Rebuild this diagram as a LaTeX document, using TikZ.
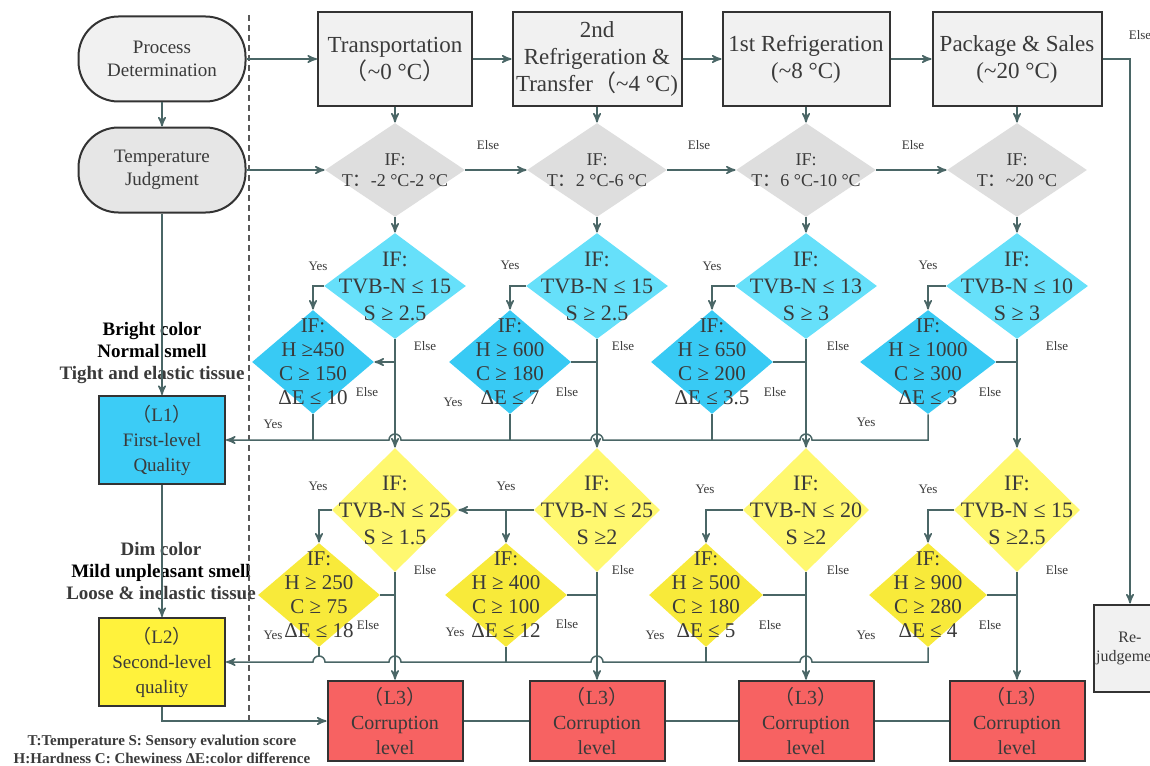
\documentclass[tikz,border=0pt]{standalone}
\usepackage{fontspec}
\setmainfont{Liberation Serif}
\newfontfamily\cjk{Noto Sans CJK SC}
\usetikzlibrary{arrows,shapes.geometric}

\definecolor{linec}{HTML}{4A6666}
\definecolor{bordc}{HTML}{333333}
\definecolor{txtc}{HTML}{3A3A3A}
\definecolor{boxg}{HTML}{F1F1F1}
\definecolor{ovalg}{HTML}{E6E6E6}
\definecolor{diag}{HTML}{DEDEDE}
\definecolor{lblue}{HTML}{66E0FA}
\definecolor{dblue}{HTML}{38CAF4}
\definecolor{lone}{HTML}{3CCCF6}
\definecolor{lyel}{HTML}{FFF870}
\definecolor{dyel}{HTML}{F8EA3A}
\definecolor{ltwo}{HTML}{FFF23C}
\definecolor{cred}{HTML}{F76262}

\newcommand{\flp}{{\cjk （}}
\newcommand{\frp}{{\cjk ）}}
\newcommand{\fcol}{{\cjk ：}}
\newcommand{\appr}{\textasciitilde}

\begin{document}
\begin{tikzpicture}[x=0.5pt,y=-0.5pt,>=stealth',
  arr/.style={->,draw=linec,line width=0.75pt},
  ln/.style={-,draw=linec,line width=0.75pt},
  stage/.style={rectangle,draw=bordc,line width=1pt,fill=boxg,text=txtc,align=center,
    font=\rmfamily\fontsize{11.5}{13.5}\selectfont,minimum height=47pt,inner sep=1pt},
  oval/.style={rectangle,rounded corners=20pt,draw=bordc,line width=1pt,text=txtc,align=center,
    font=\rmfamily\fontsize{9.5}{11.5}\selectfont,minimum width=83.5pt,minimum height=42.5pt},
  level/.style={rectangle,draw=bordc,line width=1pt,text=txtc,align=center,
    font=\rmfamily\fontsize{9.5}{12.5}\selectfont,minimum width=63pt,minimum height=44pt},
  corr/.style={rectangle,draw=bordc,line width=1pt,fill=cred,text=txtc,align=center,
    font=\rmfamily\fontsize{10}{12.5}\selectfont,minimum width=67.5pt,minimum height=38.5pt},
  tcheck/.style={diamond,fill=diag,minimum width=70pt,minimum height=47pt,inner sep=0pt},
  fcheck/.style={diamond,fill=lblue,minimum width=71pt,minimum height=53pt,inner sep=0pt},
  fsub/.style={diamond,fill=dblue,minimum width=61pt,minimum height=52pt,inner sep=0pt},
  scheck/.style={diamond,fill=lyel,minimum width=63pt,minimum height=62pt,inner sep=0pt},
  ssub/.style={diamond,fill=dyel,minimum width=61pt,minimum height=52pt,inner sep=0pt},
  ttxt/.style={align=center,text=txtc,font=\rmfamily\fontsize{9}{10.5}\selectfont},
  btxt/.style={align=center,text=txtc,font=\rmfamily\fontsize{11}{13.5}\selectfont},
  stxt/.style={align=center,text=txtc,font=\rmfamily\fontsize{10.5}{12}\selectfont},
  desc/.style={align=center,text=txtc,font=\rmfamily\bfseries\fontsize{9.5}{11}\selectfont},
  note/.style={align=center,text=txtc,font=\rmfamily\bfseries\fontsize{7.5}{9}\selectfont},
  lab/.style={text=txtc,inner sep=0pt,font=\rmfamily\fontsize{6.5}{7}\selectfont}]

  \useasboundingbox (0,0) rectangle (1150,765);
  \fill[white] (0,0) rectangle (1150,765);

  % left column
  \node[oval,fill=boxg] (pd) at (162,59) {Process\\Determination};
  \node[oval,fill=ovalg] (tj) at (162,170) {Temperature\\Judgment};
  \node[level,fill=lone] (l1) at (162,440) {\flp L1\frp\\First-level\\Quality};
  \node[level,fill=ltwo] (l2) at (162,662) {\flp L2\frp\\Second-level\\quality};
  \node[desc] (good) at (152,353) {{\color{black}Bright color}\\{\color{black}Normal smell}\\Tight and elastic tissue};
  \node[desc] (fair) at (161,571) {Dim color\\{\color{black}Mild unpleasant smell}\\Loose \& inelastic tissue};
  \node[note] (key) at (162,749) {T:Temperature S: Sensory evalution score\\H:Hardness C: Chewiness ΔE:color difference};

  \draw[dashed,dash pattern=on 3pt off 2pt,draw=black!65,line width=0.6pt] (249,15) -- (249,722);

  % process stages
  \node[stage,minimum width=77pt] (st1) at (395,59) {Transportation\\\flp\appr0 °C\frp};
  \node[stage,minimum width=84.5pt] (st2) at (597,59) {2nd\\Refrigeration \&\\Transfer\flp\appr4 °C)};
  \node[stage,minimum width=83.5pt] (st3) at (806,59) {1st Refrigeration\\(\appr8 °C)};
  \node[stage,minimum width=84.5pt] (st4) at (1017,59) {Package \& Sales\\(\appr20 °C)};
  \node[stage,minimum width=35pt,minimum height=43.5pt,font=\rmfamily\fontsize{8}{9.5}\selectfont] (rj) at (1130,648) {Re-\\judgement};

  % temperature checks
  \node[tcheck,label={[ttxt]center:{IF:\\T\fcol-2 °C-2 °C}}] (tc1) at (395,170) {};
  \node[tcheck,label={[ttxt]center:{IF:\\T\fcol 2 °C-6 °C}}] (tc2) at (597,170) {};
  \node[tcheck,label={[ttxt]center:{IF:\\T\fcol 6 °C-10 °C}}] (tc3) at (806,170) {};
  \node[tcheck,label={[ttxt]center:{IF:\\T\fcol\appr20 °C}}] (tc4) at (1017,170) {};

  % first-level checks
  \node[fcheck,label={[btxt]center:{IF:\\TVB-N ≤ 15\\S ≥ 2.5}}] (fa1) at (395,286) {};
  \node[fcheck,label={[btxt]center:{IF:\\TVB-N ≤ 15\\S ≥ 2.5}}] (fa2) at (597,286) {};
  \node[fcheck,label={[btxt]center:{IF:\\TVB-N ≤ 13\\S ≥ 3}}] (fa3) at (806,286) {};
  \node[fcheck,label={[btxt]center:{IF:\\TVB-N ≤ 10\\S ≥ 3}}] (fa4) at (1017,286) {};
  \node[fsub,label={[stxt]center:{IF:\\H ≥450\\C ≥ 150\\ΔE ≤ 10}}] (fb1) at (313,362) {};
  \node[fsub,label={[stxt]center:{IF:\\H ≥ 600\\C ≥ 180\\ΔE ≤ 7}}] (fb2) at (510,362) {};
  \node[fsub,label={[stxt]center:{IF:\\H ≥ 650\\C ≥ 200\\ΔE ≤ 3.5}}] (fb3) at (712,362) {};
  \node[fsub,minimum width=68pt,label={[stxt]center:{IF:\\H ≥ 1000\\C ≥ 300\\ΔE ≤ 3}}] (fb4) at (928,362) {};

  % second-level checks
  \node[scheck,label={[btxt]center:{IF:\\TVB-N ≤ 25\\S ≥ 1.5}}] (sa1) at (395,510) {};
  \node[scheck,label={[btxt]center:{IF:\\TVB-N ≤ 25\\S ≥2}}] (sa2) at (597,510) {};
  \node[scheck,label={[btxt]center:{IF:\\TVB-N ≤ 20\\S ≥2}}] (sa3) at (806,510) {};
  \node[scheck,label={[btxt]center:{IF:\\TVB-N ≤ 15\\S ≥2.5}}] (sa4) at (1017,510) {};
  \node[ssub,label={[stxt]center:{IF:\\H ≥ 250\\C ≥ 75\\ΔE ≤ 18}}] (sb1) at (319,595) {};
  \node[ssub,label={[stxt]center:{IF:\\H ≥ 400\\C ≥ 100\\ΔE ≤ 12}}] (sb2) at (506,595) {};
  \node[ssub,minimum width=57pt,label={[stxt]center:{IF:\\H ≥ 500\\C ≥ 180\\ΔE ≤ 5}}] (sb3) at (706,595) {};
  \node[ssub,minimum width=59pt,label={[stxt]center:{IF:\\H ≥ 900\\C ≥ 280\\ΔE ≤ 4}}] (sb4) at (928,595) {};

  % corruption level
  \node[corr] (cor1) at (395,721) {\flp L3\frp\\Corruption\\level};
  \node[corr] (cor2) at (597,721) {\flp L3\frp\\Corruption\\level};
  \node[corr] (cor3) at (806,721) {\flp L3\frp\\Corruption\\level};
  \node[corr] (cor4) at (1017,721) {\flp L3\frp\\Corruption\\level};

  \foreach \n/\x/\y in {1/318/266,2/510/265,3/712/266,4/928/265,5/273/424,6/453/402,7/866/422,
      8/318/486,9/506/486,10/705/489,11/928/489,12/273/635,13/455/632,14/655/635,15/866/635}
    \node[lab] (yes\n) at (\x,\y) {Yes};
  \foreach \n/\x/\y in {1/488/145,2/699/145,3/913/145,4/1140/35,5/425/346,6/623/346,7/838/346,
      8/1057/346,9/367/392,10/567/392,11/775/392,12/990/392,13/425/570,14/623/570,15/838/570,
      16/1057/570,17/368/625,18/567/624,19/770/625,20/990/625}
    \node[lab] (else\n) at (\x,\y) {Else};

  % main flow
  \draw[arr] (pd) -- (st1);
  \draw[arr] (st1) -- (st2);
  \draw[arr] (st2) -- (st3);
  \draw[arr] (st3) -- (st4);
  \draw[arr] (st4.east) -| (rj.north); % else
  \draw[arr] (pd) -- (tj);
  \draw[arr] (tj) -- (tc1);
  \draw[arr] (tj) -- (l1);
  \draw[arr] (l1) -- (l2);
  \draw[arr] (l2.south) |- (cor1.west);
  \draw[arr] (tc1) -- (tc2);
  \draw[arr] (tc2) -- (tc3);
  \draw[arr] (tc3) -- (tc4);

  \foreach \i in {1,...,4} {
    \draw[arr] (st\i) -- (tc\i);
    \draw[arr] (tc\i) -- (fa\i);
    \draw[arr] (fa\i.west) -| (fb\i.north); % yes
    \draw[arr] (fa\i) -- (sa\i); % else
    \draw[arr] (sa\i.west) -| (sb\i.north); % yes
    \draw[arr] (sa\i) -- (cor\i); % else
    \draw[ln] (sb\i.east) -- (sb\i.east -| sa\i.south);
  }
  \draw[arr] (fa1.south |- fb1.east) -- (fb1.east);
  \foreach \i in {2,3,4}
    \draw[ln] (fb\i.east) -- (fb\i.east -| fa\i.south);
  \draw[arr] (sa2.west) -- (sa1.east);

  % yes to first level
  \foreach \i in {1,2,3}
    \draw[ln] (fb\i.south) -- (fb\i.south |- l1.east);
  \draw[arr] (fb4.south) -- (fb4.south |- l1.east)
    -- ([xshift=3pt]fa3.south |- l1.east) arc[start angle=0,end angle=180,radius=3pt]
    -- ([xshift=3pt]fa2.south |- l1.east) arc[start angle=0,end angle=180,radius=3pt]
    -- ([xshift=3pt]fa1.south |- l1.east) arc[start angle=0,end angle=180,radius=3pt]
    -- (l1.east);

  % yes to second level
  \foreach \i in {2,3}
    \draw[ln] (sb\i.south) -- (sb\i.south |- l2.east);
  \draw[ln] (sb1.south) -- ([yshift=3pt]sb1.south |- l2.east);
  \draw[arr] (sb4.south) -- (sb4.south |- l2.east)
    -- ([xshift=3pt]sa3.south |- l2.east) arc[start angle=0,end angle=180,radius=3pt]
    -- ([xshift=3pt]sa2.south |- l2.east) arc[start angle=0,end angle=180,radius=3pt]
    -- ([xshift=3pt]sa1.south |- l2.east) arc[start angle=0,end angle=180,radius=3pt]
    -- ([xshift=3pt]sb1.south |- l2.east) arc[start angle=0,end angle=180,radius=3pt]
    -- (l2.east);

  \draw[ln] (cor1) -- (cor2);
  \draw[ln] (cor2) -- (cor3);
  \draw[ln] (cor3) -- (cor4);
\end{tikzpicture}
\end{document}
